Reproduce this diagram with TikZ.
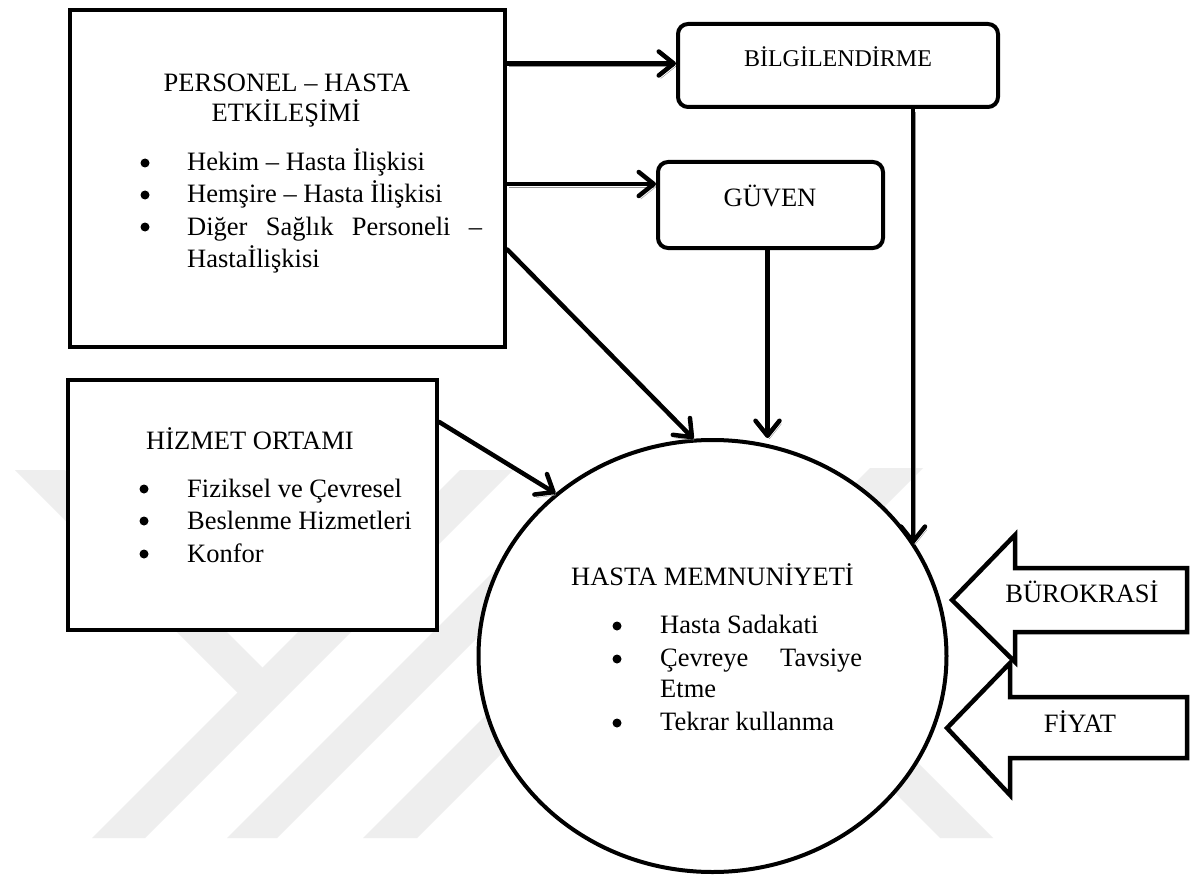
\documentclass[tikz,border=0pt]{standalone}
\usepackage{fontspec}
\setmainfont{Liberation Serif}
\usetikzlibrary{arrows.meta,shapes.geometric}
\definecolor{wm}{RGB}{238,238,238}
\definecolor{shade}{RGB}{150,150,150}
\begin{document}
\begin{tikzpicture}[x=1pt,y=-1pt,
  box/.style={draw, line width=4.5pt, fill=white, inner sep=0pt},
  rbox/.style={draw, line width=4pt, rounded corners=10pt, fill=white, inner sep=0pt},
  txt/.style={inner sep=0pt, font=\fontsize{26.5}{32}\selectfont},
  smalltxt/.style={inner sep=0pt, font=\fontsize{24}{28}\selectfont},
  dot/.style={circle, fill=black, inner sep=0pt, minimum size=9pt},
  conn/.style={line width=4.5pt, line cap=round, -{Straight Barb[length=15pt,width=24pt,round]},
    preaction={draw=shade, transform canvas={shift={(2pt,-3pt)}}}},
  blk/.style={draw, line width=4.5pt, fill=white, line join=miter},
  wmk/.style={fill=wm, draw=none}]

\useasboundingbox (0,0) rectangle (1192,880);
\fill[white] (0,0) rectangle (1192,880);

% watermark
\fill[wmk] (92,838) -- (145,838) -- (513,470) -- (460,470) -- cycle;
\fill[wmk] (15,470) -- (65,470) -- (263,668) -- (238,693) -- cycle;
\fill[wmk] (227,838) -- (277,838) -- (555,560) -- (505,560) -- cycle;
\fill[wmk] (363,838) -- (417,838) -- (650,605) -- (596,605) -- cycle;
\fill[wmk] (870,468) -- (923,468) -- (791,600) -- (738,600) -- cycle;
\fill[wmk] (940,838) -- (993,838) -- (805,650) -- (752,650) -- cycle;

% main shapes
\node[box, minimum width=435pt, minimum height=337pt] (pers) at (287.5,178.5) {};
\node[box, minimum width=369pt, minimum height=250pt] (hizm) at (252.5,505) {};
\node[rbox, minimum width=320pt, minimum height=83pt] (bilg) at (838,65.5) {};
\node[rbox, minimum width=225pt, minimum height=86pt] (guven) at (770.5,205) {};
\node[draw, ellipse, line width=4pt, fill=white, minimum width=468pt, minimum height=432pt, inner sep=0pt] (circ) at (712.5,656) {};

% block arrows
\draw[blk] (952,600) -- (1015,535) -- (1015,568) -- (1187,568) -- (1187,632) -- (1015,632) -- (1015,662) -- cycle;
\draw[blk] (947,728) -- (1010,663) -- (1010,697) -- (1187,697) -- (1187,758) -- (1010,758) -- (1010,795) -- cycle;
\node[txt, anchor=base] (bur) at (1082,602) {BÜROKRASİ};
\node[txt, anchor=base] (fiy) at (1080,732) {FİYAT};

% PERSONEL box text
\node[txt, anchor=base] (pt1) at (287,92) {PERSONEL – HASTA};
\node[txt, anchor=base] (pt2) at (286,122) {ETKİLEŞİMİ};
\node[dot] (pb1) at (145,163) {};
\node[dot] (pb2) at (145,195) {};
\node[dot] (pb3) at (145,227) {};
\node[txt, anchor=base west] (pi1) at (187,171) {Hekim – Hasta İlişkisi};
\node[txt, anchor=base west] (pi2) at (187,203) {Hemşire – Hasta İlişkisi};
\node[txt, anchor=base west] (pi3) at (187,235) {\makebox[295pt][s]{Diğer Sağlık Personeli –}};
\node[txt, anchor=base west] (pi4) at (187,267) {Hastaİlişkisi};

% HIZMET box text
\node[txt, anchor=base west] (ht) at (146,449) {HİZMET ORTAMI};
\node[dot] (hb1) at (144,489) {};
\node[dot] (hb2) at (144,521) {};
\node[dot] (hb3) at (144,554) {};
\node[txt, anchor=base west] (hi1) at (187,497) {Fiziksel ve Çevresel};
\node[txt, anchor=base west] (hi2) at (187,529) {Beslenme Hizmetleri};
\node[txt, anchor=base west] (hi3) at (187,562) {Konfor};

% rounded boxes text
\node[smalltxt, anchor=base] (bt) at (838,67) {BİLGİLENDİRME};
\node[txt, anchor=base] (gt) at (770,207) {GÜVEN};

% circle text
\node[txt, anchor=base] (ct) at (712.5,585) {HASTA MEMNUNİYETİ};
\node[dot] (cb1) at (617,626) {};
\node[dot] (cb2) at (617,659) {};
\node[dot] (cb3) at (617,723) {};
\node[txt, anchor=base west] (ci1) at (660,633) {Hasta Sadakati};
\node[txt, anchor=base west] (ci2) at (660,666) {\makebox[202pt][s]{Çevreye Tavsiye}};
\node[txt, anchor=base west] (ci3) at (660,697) {Etme};
\node[txt, anchor=base west] (ci4) at (660,730) {Tekrar kullanma};

% connectors
\coordinate (bin) at ([yshift=2pt]bilg.west);
\coordinate (gin) at ([yshift=21pt]guven.west);
\coordinate (pout) at ([yshift=-71pt]pers.east);
\coordinate (hout) at ([yshift=83pt]hizm.east);
\coordinate (gout) at ([xshift=-3pt]guven.south);
\coordinate (bout) at ([xshift=75pt]bilg.south);
\draw[conn] (pers.east |- bin) -- (bin);
\draw[conn] (pers.east |- gin) -- (gin);
\draw[conn] (pout) -- (circ.95);
\draw[conn] (hout) -- (circ.134);
\draw[conn] (gout) -- (gout |- circ.north);
\draw[conn] (bout) -- (bout |- circ.29);
\end{tikzpicture}
\end{document}
